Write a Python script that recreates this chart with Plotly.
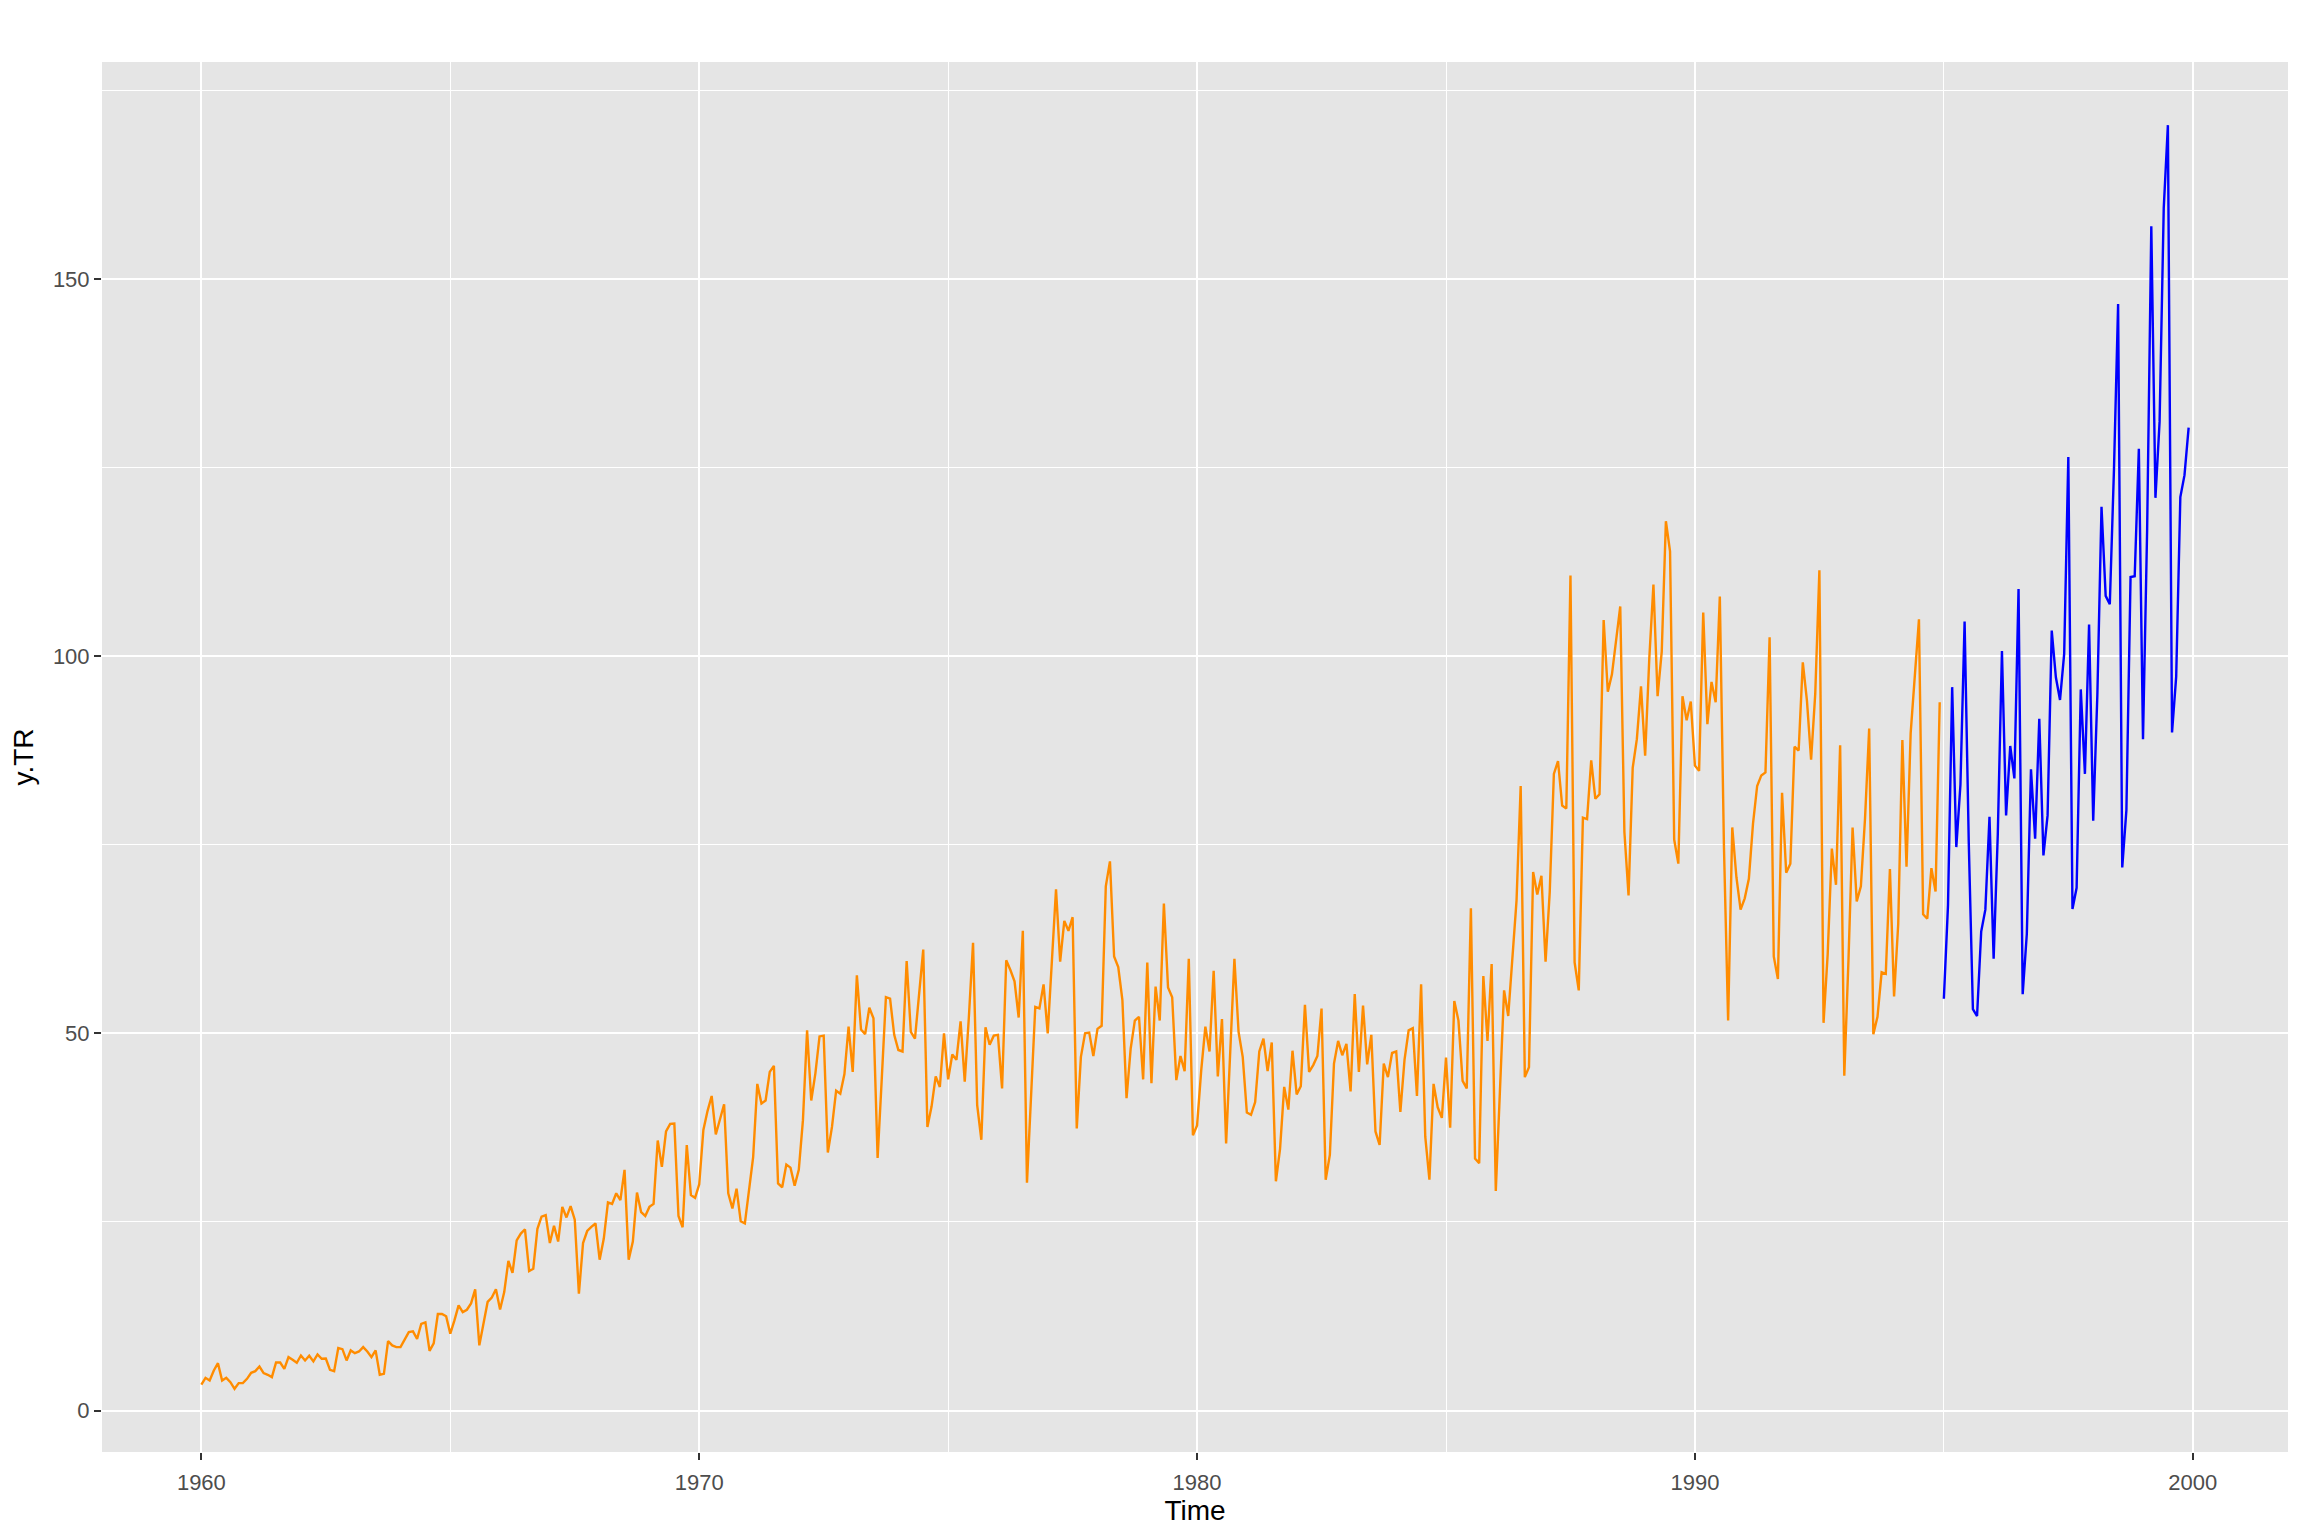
import plotly.graph_objects as go

start_year = 1960
freq = 12

train_values = [
    # 1960
    3.45, 4.34, 3.98, 5.31, 6.28, 3.98, 4.34, 3.76, 2.88, 3.63, 3.63, 4.20,
    # 1961
    5.0, 5.22, 5.84, 4.96, 4.74, 4.43, 6.37, 6.37, 5.53, 7.08, 6.73, 6.33,
    # 1962
    7.30, 6.64, 7.26, 6.51, 7.43, 6.86, 6.9, 5.4, 5.22, 8.28, 8.14, 6.64,
    # 1963
    7.97, 7.61, 7.83, 8.41, 7.83, 7.08, 7.97, 4.74, 4.87, 9.2, 8.63, 8.41,
    # 1964
    8.41, 9.5, 10.4, 10.5, 9.5, 11.5, 11.7, 7.9, 8.9, 12.8, 12.8, 12.5,
    # 1965
    10.2, 11.95, 13.94, 13.05, 13.36, 14.2, 16.07, 8.64, 11.5, 14.4, 14.97, 16.07,
    # 1966
    13.4, 15.7, 19.83, 18.24, 22.57, 23.46, 24.03, 18.5, 18.8, 24.1, 25.7, 25.9,
    # 1967
    22.2, 24.5, 22.4, 27.0, 25.6, 27.1, 25.3, 15.5, 22.2, 23.8, 24.35, 24.8,
    # 1968
    20.0, 22.8, 27.6, 27.4, 28.8, 27.9, 31.9, 20.0, 22.4, 28.9, 26.3, 25.8,
    # 1969
    27.0, 27.4, 35.8, 32.3, 37.0, 38.0, 38.05, 25.8, 24.3, 35.2, 28.55, 28.2,
    # 1970
    30.0, 37.2, 39.7, 41.7, 36.6, 38.5, 40.6, 28.8, 26.8, 29.4, 25.1, 24.8,
    # 1971
    29.6, 33.6, 43.3, 40.7, 41.1, 44.9, 45.7, 30.1, 29.6, 32.6, 32.2, 29.8,
    # 1972
    31.9, 38.5, 50.4, 41.1, 44.7, 49.6, 49.7, 34.2, 37.6, 42.4, 42.0, 44.6,
    # 1973
    50.9, 44.9, 57.7, 50.5, 49.9, 53.4, 52.0, 33.5, 44.0, 54.8, 54.6, 49.8,
    # 1974
    47.8, 47.6, 59.6, 50.2, 49.3, 54.9, 61.1, 37.6, 40.3, 44.3, 42.9, 50.0,
    # 1975
    43.9, 47.2, 46.5, 51.6, 43.6, 52.2, 62.0, 40.5, 35.9, 50.8, 48.5, 49.7,
    # 1976
    49.8, 42.7, 59.7, 58.4, 56.9, 52.1, 63.6, 30.2, 41.6, 53.5, 53.3, 56.5,
    # 1977
    50.0, 59.3, 69.1, 59.5, 64.9, 63.6, 65.4, 37.4, 46.9, 50.0, 50.1, 47.0,
    # 1978
    50.6, 51.0, 69.5, 72.8, 60.2, 58.8, 54.4, 41.4, 48.0, 51.7, 52.2, 43.9,
    # 1979
    59.4, 43.4, 56.2, 51.7, 67.2, 56.1, 54.8, 43.8, 47.0, 45.0, 59.9, 36.5,
    # 1980
    37.8, 45.1, 50.9, 47.6, 58.3, 44.3, 51.9, 35.4, 47.0, 59.9, 50.2, 46.9,
    # 1981
    39.5, 39.2, 40.9, 47.6, 49.3, 45.0, 48.8, 30.4, 34.7, 42.9, 39.9, 47.7,
    # 1982
    41.9, 43.0, 53.8, 44.9, 45.8, 47.0, 53.3, 30.6, 33.9, 46.0, 49.0, 47.1,
    # 1983
    48.6, 42.3, 55.2, 44.9, 53.7, 45.9, 49.8, 37.0, 35.2, 46.0, 44.2, 47.4,
    # 1984
    47.6, 39.6, 46.5, 50.4, 50.7, 41.7, 56.5, 36.3, 30.6, 43.3, 40.2, 38.8,
    # 1985
    46.8, 37.5, 54.3, 51.7, 43.7, 42.7, 66.6, 33.4, 32.8, 57.6, 49.0, 59.2,
    # 1986
    29.1, 42.0, 55.7, 52.3, 59.9, 67.6, 82.8, 44.2, 45.5, 71.4, 68.4, 70.9,
    # 1987
    59.5, 68.7, 84.4, 86.1, 80.2, 79.8, 110.7, 59.4, 55.7, 78.6, 78.4, 86.2,
    # 1988
    81.1, 81.7, 104.8, 95.3, 97.6, 102.0, 106.6, 76.7, 68.3, 85.2, 89.0, 96.0,
    # 1989
    86.8, 99.7, 109.5, 94.7, 100.6, 117.9, 113.9, 75.7, 72.5, 94.7, 91.5, 94.0,
    # 1990
    85.5, 84.8, 105.8, 91.0, 96.6, 93.9, 107.9, 74.6, 51.7, 77.3, 70.7, 66.4,
    # 1991
    67.9, 70.5, 77.8, 82.8, 84.2, 84.6, 102.5, 60.2, 57.2, 81.9, 71.3, 72.5,
    # 1992
    88.0, 87.5, 99.2, 94.1, 86.3, 95.0, 111.4, 51.4, 60.5, 74.5, 69.7, 88.2,
    # 1993
    44.4, 59.6, 77.3, 67.5, 69.5, 78.5, 90.4, 49.9, 52.2, 58.1, 57.9, 71.8,
    # 1994
    54.9, 64.5, 88.9, 72.1, 89.8, 97.4, 104.9, 65.8, 65.2, 71.9, 68.8, 93.9,
]

test_values = [
    # 1995
    54.6, 67.0, 95.9, 74.7, 83.0, 104.6, 75.4, 53.2, 52.3, 63.5, 66.4, 78.7,
    # 1996
    59.9, 76.4, 100.7, 78.9, 88.1, 83.8, 108.9, 55.2, 63.2, 85.0, 75.8, 91.7,
    # 1997
    73.6, 78.9, 103.4, 97.2, 94.2, 100.3, 126.4, 66.5, 69.3, 95.6, 84.4, 104.2,
    # 1998
    78.2, 94.9, 119.8, 108.0, 106.9, 124.7, 146.7, 72.0, 79.6, 110.5, 110.6, 127.5,
    # 1999
    89.0, 116.9, 157.0, 121.0, 131.1, 159.4, 170.4, 89.9, 97.3, 121.1, 124.0, 130.3,
]

x_ticks = [1960, 1970, 1980, 1990, 2000]
x_minor = [1965, 1975, 1985, 1995]
y_ticks = [0, 50, 100, 150]
y_minor = [25, 75, 125, 175]

train_time = [start_year + i / freq for i in range(len(train_values))]
test_time = [start_year + (len(train_values) + i) / freq for i in range(len(test_values))]

all_t = train_time + test_time
all_v = train_values + test_values
tx = (max(all_t) - min(all_t)) * 0.05
ty = (max(all_v) - min(all_v)) * 0.05

fig = go.Figure()
fig.add_trace(go.Scatter(x=train_time, y=train_values, mode="lines",
                         line=dict(color="#FF8C00", width=2.4), showlegend=False))
fig.add_trace(go.Scatter(x=test_time, y=test_values, mode="lines",
                         line=dict(color="#0000FF", width=2.4), showlegend=False))

font_family = "Liberation Sans, Arial, Helvetica, sans-serif"

fig.update_layout(
    width=2296, height=1528, autosize=False,
    margin=dict(l=91, r=16, t=54, b=84, pad=0),
    paper_bgcolor="white",
    plot_bgcolor="#E5E5E5",
    font=dict(family=font_family, color="#4D4D4D", size=22),
    xaxis=dict(
        range=[min(all_t) - tx, max(all_t) + tx],
        tickmode="array", tickvals=x_ticks, ticktext=[str(v) for v in x_ticks],
        ticks="outside", ticklen=7, tickwidth=2, tickcolor="#333333",
        ticklabelstandoff=4,
        showgrid=True, gridcolor="white", gridwidth=2.4,
        minor=dict(tickmode="array", tickvals=x_minor,
                   showgrid=True, gridcolor="white", gridwidth=1.2, ticks=""),
        zeroline=False, showline=False,
        tickfont=dict(size=22, color="#4D4D4D"),
        title=dict(text="Time", font=dict(size=28, color="black"), standoff=1),
    ),
    yaxis=dict(
        range=[min(all_v) - ty, max(all_v) + ty],
        tickmode="array", tickvals=y_ticks, ticktext=[str(v) for v in y_ticks],
        ticks="outside", ticklen=7, tickwidth=2, tickcolor="#333333",
        showgrid=True, gridcolor="white", gridwidth=2.4,
        minor=dict(tickmode="array", tickvals=y_minor,
                   showgrid=True, gridcolor="white", gridwidth=1.2, ticks=""),
        zeroline=False, showline=False,
        tickfont=dict(size=22, color="#4D4D4D"),
        title=dict(text="y.TR", font=dict(size=28, color="black"), standoff=13),
    ),
)

fig.write_html("out.html")
